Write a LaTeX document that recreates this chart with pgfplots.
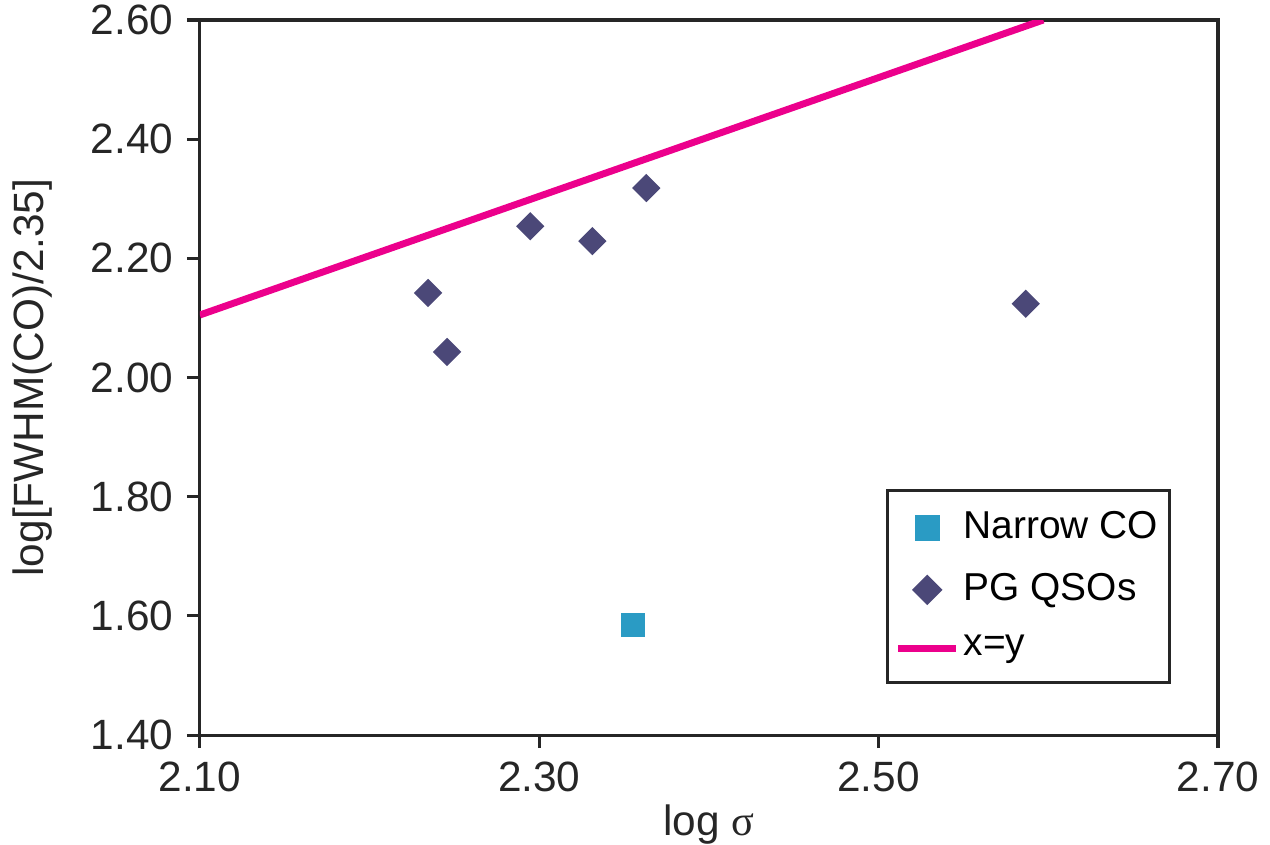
\documentclass[border=0pt]{standalone}
\usepackage{fontspec}
\setmainfont{Liberation Sans}
\newfontfamily\symfont{Liberation Serif}
\usepackage{pgfplots}
\pgfplotsset{compat=1.18}
\definecolor{narrowco}{HTML}{2A9BC4}
\definecolor{pgqso}{HTML}{4B4878}
\definecolor{xyline}{HTML}{EC008C}

\begin{document}
\begin{tikzpicture}
\begin{axis}[
  scale only axis, width=264.4pt, height=185.7pt,
  xmin=2.10, xmax=2.70, ymin=1.40, ymax=2.60,
  xtick={2.10,2.30,2.50,2.70}, ytick={1.40,1.60,...,2.61},
  tick align=outside, tick pos=left, major tick length=3.4pt,
  axis line style={line width=0.8pt, black!85}, every tick/.style={line width=0.8pt, black!85},
  /pgf/number format/.cd, fixed, fixed zerofill, precision=2, assume math mode=true, /pgfplots/.cd,
  tick label style={font=\fontsize{11}{13}\selectfont, text=black!85},
  label style={font=\fontsize{11}{13}\selectfont, text=black!85},
  xlabel={log {\symfont σ}}, ylabel={log[FWHM(CO)/2.35]},
  xlabel style={yshift=3.5pt}, ylabel style={yshift=3pt},
  legend style={at={(0.954,0.071)}, anchor=south east, draw=black!85, line width=0.8pt,
    font=\fontsize{10.1}{12}\selectfont, row sep=3.5pt, inner xsep=2pt, inner ysep=3.5pt,
    nodes={inner xsep=1pt}},
  legend cell align=left,
  legend image code/.code={\draw[mark repeat=2,mark phase=2,#1]
    plot coordinates {(0cm,0cm) (0.265cm,0cm) (0.53cm,0cm)};},
]
\coordinate (ll) at (rel axis cs:0,0);
\coordinate (ur) at (rel axis cs:1,1);
\addplot[only marks, mark=square*, mark size=2.9pt, color=narrowco] coordinates {(2.3555,1.585)};
\addlegendentry{Narrow CO}
\addplot[only marks, mark=square*, mark size=2.4pt, mark options={rotate=45}, color=pgqso] coordinates {
(2.2345,2.142) (2.2457,2.043) (2.2947,2.254) (2.3313,2.229) (2.3631,2.318) (2.5867,2.124)};
\addlegendentry{PG QSOs}
\addplot[no marks, color=xyline, line width=1.8pt] coordinates {(2.10,2.105) (2.597,2.60)};
\addlegendentry{x=y}
\end{axis}
\pgfresetboundingbox
\path[use as bounding box] ([xshift=-51.9pt,yshift=-28.3pt]ll) rectangle ([xshift=13.5pt,yshift=5.2pt]ur);
\end{tikzpicture}
\end{document}
